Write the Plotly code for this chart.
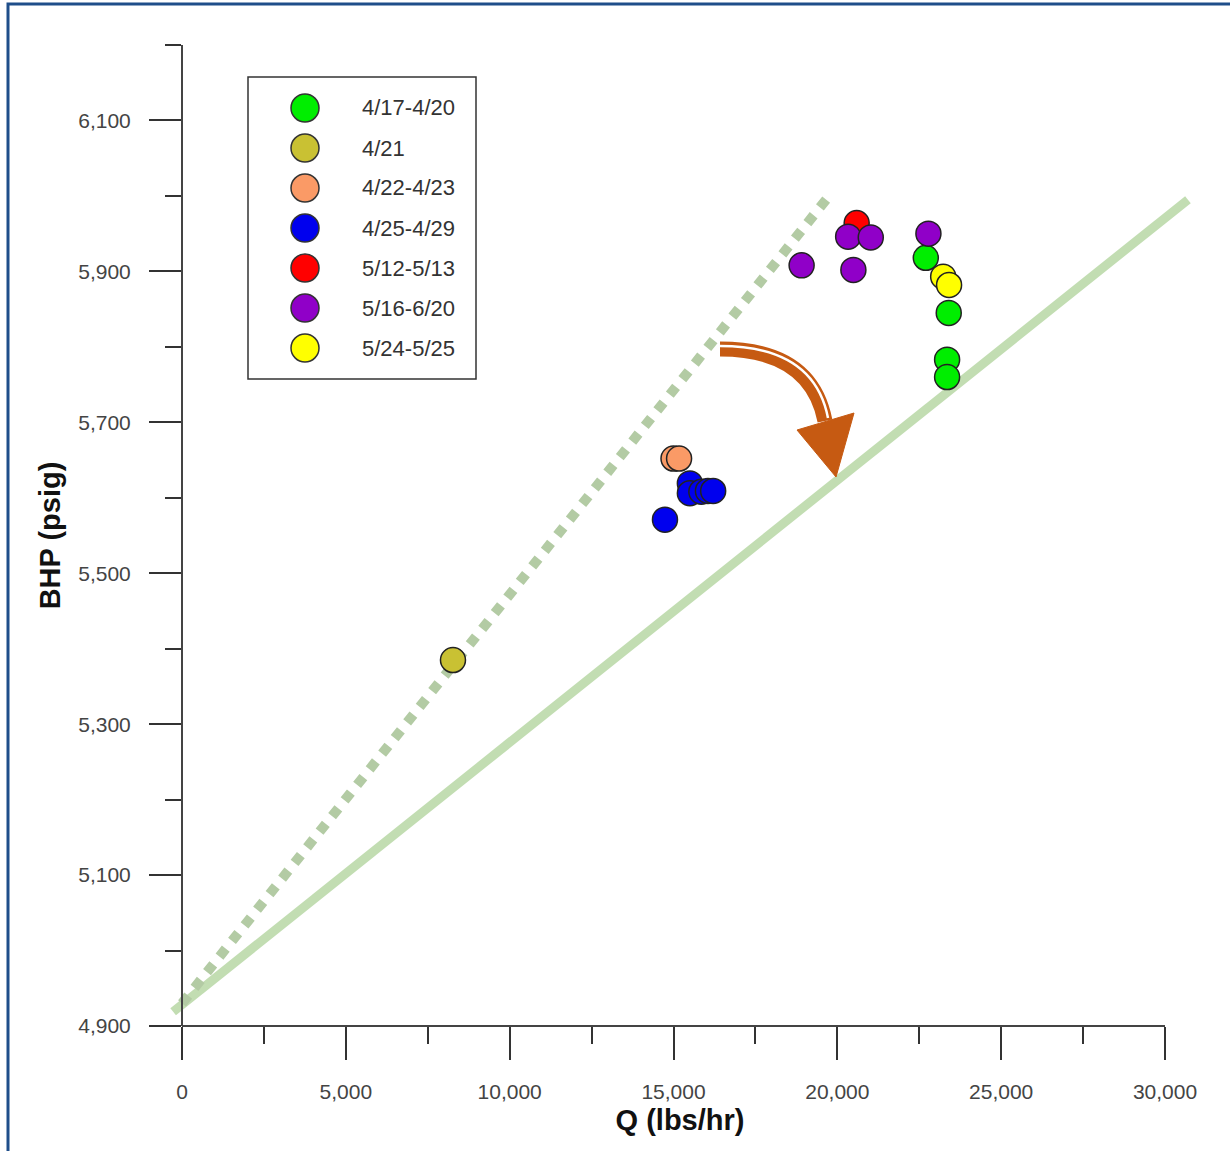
import plotly.graph_objects as go

# ---------------- data ----------------
series_names = ["4/17-4/20", "4/21", "4/22-4/23", "4/25-4/29", "5/12-5/13", "5/16-6/20", "5/24-5/25"]
series_colors = ["#00ee00", "#c9c133", "#fa9a66", "#0000ee", "#ff0000", "#9000c8", "#ffff00"]

q_green = [22700, 23400, 23350, 23350]
bhp_green = [5918, 5845, 5783, 5760]

q_olive = [8270]
bhp_olive = [5385]

q_salmon = [15000, 15170]
bhp_salmon = [5652, 5652]

q_blue = [14740, 15500, 15500, 15850, 16050, 16210]
bhp_blue = [5571, 5619, 5606, 5608, 5609, 5609]

q_red = [20590]
bhp_red = [5964]

q_purple = [18910, 20330, 21020, 20490, 22780]
bhp_purple = [5908, 5946, 5945, 5902, 5950]

q_yellow = [23230, 23410]
bhp_yellow = [5893, 5882]

q_series = [q_green, q_olive, q_salmon, q_blue, q_red, q_purple, q_yellow]
bhp_series = [bhp_green, bhp_olive, bhp_salmon, bhp_blue, bhp_red, bhp_purple, bhp_yellow]

# trend lines
q_dotted = [0, 19750]
bhp_dotted = [4930, 6000]
q_solid = [-270, 30700]
bhp_solid = [4919, 5995]

x_tick_step = 5000
x_minor_step = 2500
y_tick_step = 200
y_minor_step = 100
x_axis_max = 30000
y_range = [4900, 6200]

# ---------------- layout geometry ----------------
W, H = 1230, 1151
ML, MR, MT, MB = 160, 30, 45, 125
PW = W - ML - MR
PH = H - MT - MB
X0PX, X1PX = 182, 1165            # pixel of x=0 and x=30000
S = (X1PX - X0PX) / x_axis_max     # px per unit
x_range = [(ML - X0PX) / S, (ML + PW - X0PX) / S]
SY = PH / (y_range[1] - y_range[0])


def px2x(px):
    return (px - X0PX) / S


def py2y(py):
    return y_range[0] + (MT + PH - py) / SY


def px2paper(px):
    return (px - ML) / PW


def py2paper(py):
    return (MT + PH - py) / PH


FONT = "Liberation Sans, Arial, Helvetica, sans-serif"

fig = go.Figure()

fig.add_trace(go.Scatter(x=q_solid, y=bhp_solid, mode="lines",
                         line=dict(color="#c2ddb2", width=9), showlegend=False,
                         hoverinfo="skip"))
fig.add_trace(go.Scatter(x=q_dotted, y=bhp_dotted, mode="lines",
                         line=dict(color="#b3cba4", width=10, dash="10px,10px"),
                         showlegend=False, hoverinfo="skip"))

for name, color, xs, ys in zip(series_names, series_colors, q_series, bhp_series):
    fig.add_trace(go.Scatter(
        x=xs, y=ys, mode="markers", name=name, showlegend=False,
        marker=dict(size=25, color=color, line=dict(color="#222222", width=1.5)),
    ))

shapes = []
# x axis line from 0 to 30000
shapes.append(dict(type="line", xref="x", yref="paper", x0=0, x1=x_axis_max, y0=0, y1=0,
                   line=dict(color="#444444", width=2), layer="above"))

# curved arrow (decoration)
ORANGE = "#c65a12"
p0 = (720, 349); c = (811, 349); p1 = (825, 421)
body = "M {},{} Q {},{} {},{}".format(px2x(p0[0]), py2y(p0[1]), px2x(c[0]), py2y(c[1]),
                                      px2x(p1[0]), py2y(p1[1]))
shapes.append(dict(type="path", xref="x", yref="y", path=body,
                   line=dict(color=ORANGE, width=15), fillcolor="rgba(0,0,0,0)", layer="above"))
w0 = (720, 346); wc = (814, 346); w1 = (828, 418)
stripe = "M {},{} Q {},{} {},{}".format(px2x(w0[0]), py2y(w0[1]), px2x(wc[0]), py2y(wc[1]),
                                        px2x(w1[0]), py2y(w1[1]))
shapes.append(dict(type="path", xref="x", yref="y", path=stripe,
                   line=dict(color="white", width=2.5), fillcolor="rgba(0,0,0,0)", layer="above"))
head = "M {},{} L {},{} L {},{} Z".format(px2x(797), py2y(430), px2x(854), py2y(413),
                                          px2x(836), py2y(477))
shapes.append(dict(type="path", xref="x", yref="y", path=head,
                   line=dict(color=ORANGE, width=1), fillcolor=ORANGE, layer="above"))

# manual legend
shapes.append(dict(type="rect", xref="paper", yref="paper",
                   x0=px2paper(248), x1=px2paper(476), y0=py2paper(379), y1=py2paper(77),
                   line=dict(color="#333333", width=1.5), fillcolor="white", layer="above"))
annotations = []
for i, (name, color) in enumerate(zip(series_names, series_colors)):
    cy = 108 + 40 * i
    shapes.append(dict(type="circle", xref="paper", yref="paper",
                       xsizemode="pixel", ysizemode="pixel",
                       xanchor=px2paper(305), yanchor=py2paper(cy),
                       x0=-14, x1=14, y0=-14, y1=14,
                       fillcolor=color, line=dict(color="#333333", width=1.5), layer="above"))
    annotations.append(dict(xref="paper", yref="paper", x=px2paper(360), y=py2paper(cy),
                            xanchor="left", yanchor="middle", text=name, showarrow=False,
                            font=dict(family=FONT, size=22, color="#333333")))

# outer frame
shapes.append(dict(type="rect", xref="paper", yref="paper",
                   x0=px2paper(8), x1=px2paper(1245), y0=py2paper(1165), y1=py2paper(4),
                   line=dict(color="#1f4e8a", width=3), fillcolor="rgba(0,0,0,0)", layer="above"))

fig.update_layout(
    width=W, height=H,
    margin=dict(l=ML, r=MR, t=MT, b=MB, autoexpand=False),
    paper_bgcolor="white", plot_bgcolor="white",
    showlegend=False,
    font=dict(family=FONT, color="#444444"),
    shapes=shapes,
    annotations=annotations,
    xaxis=dict(
        range=x_range, domain=[0, 1], anchor="y",
        showgrid=False, zeroline=False, showline=False,
        ticks="outside", ticklen=33, tickwidth=1.5, tickcolor="#333333",
        tick0=0, dtick=x_tick_step, tickformat=",",
        tickfont=dict(family=FONT, size=21, color="#444444"),
        ticklabelstandoff=14,
        minor=dict(ticks="outside", ticklen=17, tickwidth=1.5, tickcolor="#333333",
                   tick0=0, dtick=x_minor_step, showgrid=False),
        title=dict(text="Q (lbs/hr)", standoff=7,
                   font=dict(family=FONT, size=29, color="#111111", weight="bold")),
        automargin=False,
    ),
    yaxis=dict(
        range=y_range, anchor="free", position=px2paper(X0PX),
        showgrid=False, zeroline=False, showline=True, linecolor="#444444", linewidth=2,
        ticks="outside", ticklen=32, tickwidth=1.5, tickcolor="#333333",
        tick0=y_range[0], dtick=y_tick_step, tickformat=",",
        tickfont=dict(family=FONT, size=21, color="#444444"),
        ticklabelstandoff=14,
        minor=dict(ticks="outside", ticklen=16, tickwidth=1.5, tickcolor="#333333",
                   tick0=y_range[0], dtick=y_minor_step, showgrid=False),
        title=dict(text="BHP (psig)", standoff=8,
                   font=dict(family=FONT, size=29, color="#111111", weight="bold")),
        automargin=False,
    ),
)

fig.write_html("out.html")
